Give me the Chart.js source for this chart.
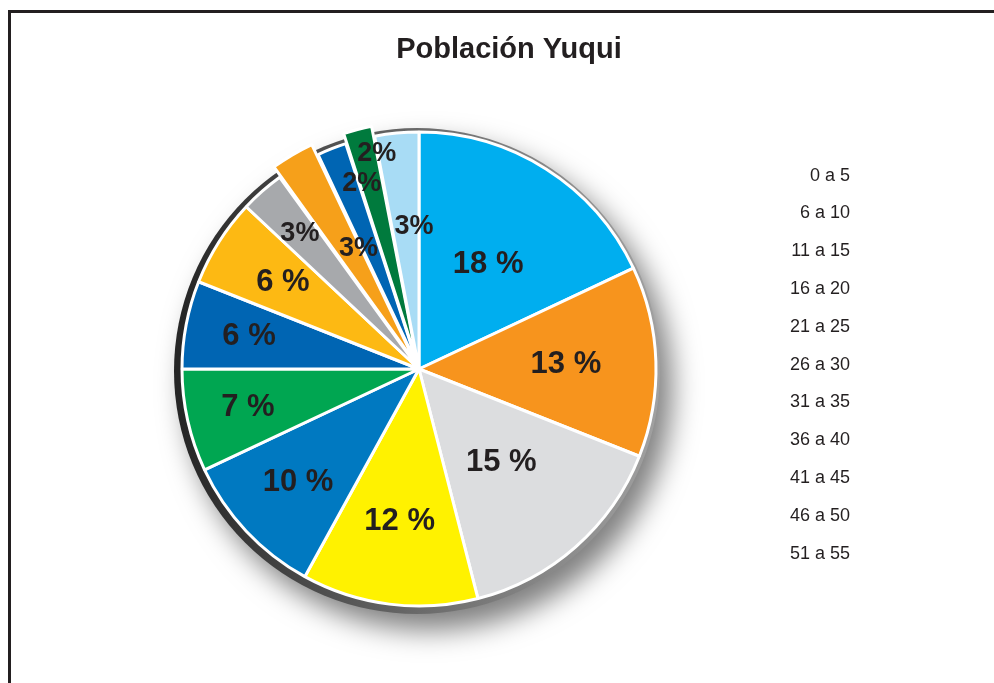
<!DOCTYPE html>
<html>
<head>
<meta charset="utf-8">
<title>Población Yuqui</title>
<script src="https://cdn.jsdelivr.net/npm/chart.js@4.4.1/dist/chart.umd.min.js"></script>
<style>
  html, body { margin: 0; padding: 0; background: #fff; }
  #wrap { width: 994px; height: 683px; position: relative; }
</style>
</head>
<body>
<div id="wrap"><canvas id="yuquiChart"></canvas></div>
<script>
// age groups listed in the legend (the picture only lists 11 of them)
const ageGroups = ["0 a 5", "6 a 10", "11 a 15", "16 a 20", "21 a 25", "26 a 30",
                   "31 a 35", "36 a 40", "41 a 45", "46 a 50", "51 a 55"];
// slice percentages, clockwise from 12 o'clock
const percentages = [18, 13, 15, 12, 10, 7, 6, 6, 3, 3, 2, 2, 3];
const sliceColors = ["#00aeef", "#f7941d", "#dcdddf", "#fff200", "#0079c1", "#00a651",
                     "#0065b3", "#fdb913", "#a7a9ac", "#f6a01a", "#0065b3", "#007a3d", "#a8dcf5"];
// two slices are pulled out of the pie
const explodeBy = [0, 0, 0, 0, 0, 0, 0, 0, 0, 26, 0, 22, 0];
// where each percentage label sits: share of the radius, and a small turn (degrees) off the slice middle
const labelRadius = [0.53, 0.62, 0.525, 0.65, 0.70, 0.74, 0.73, 0.68, 0.76, 0.57, 0.82, 0.925, 0.60];
const labelTurn = [1, 0, 0, 0, 0, 0, 0, 0, 0, 4, 4.5, 3.3, 3.4];

const FONT = '"Liberation Sans", Arial, Helvetica, sans-serif';
const INK = '#231f20';

// frame round the picture + dark rim / drop shadow under the pie
const frameAndShadow = {
  id: 'frameAndShadow',
  beforeDraw(chart) {
    const ctx = chart.ctx;
    ctx.save();
    ctx.fillStyle = INK;
    ctx.fillRect(8, 10, chart.width, 3);
    ctx.fillRect(8, 10, 3, chart.height);
    ctx.restore();
  },
  beforeDatasetsDraw(chart) {
    const arc = chart.getDatasetMeta(0).data[0];
    if (!arc) return;
    const { x, y, outerRadius } = arc.getProps(['x', 'y', 'outerRadius'], true);
    const ctx = chart.ctx;
    ctx.save();
    ctx.shadowColor = 'rgba(0,0,0,0.5)';
    ctx.shadowBlur = 28;
    ctx.shadowOffsetX = 12;
    ctx.shadowOffsetY = 16;
    const g = ctx.createLinearGradient(x - outerRadius, 0, x + outerRadius, 0);
    g.addColorStop(0, '#262626');
    g.addColorStop(0.5, '#6a6a6a');
    g.addColorStop(1, '#a0a0a0');
    ctx.fillStyle = g;
    ctx.beginPath();
    ctx.arc(x - 2, y + 2, outerRadius + 6, 0, Math.PI * 2);
    ctx.fill();
    ctx.restore();
  }
};

// percentage text inside the slices
const sliceLabels = {
  id: 'sliceLabels',
  afterDatasetsDraw(chart) {
    const ctx = chart.ctx;
    const meta = chart.getDatasetMeta(0);
    ctx.save();
    ctx.fillStyle = INK;
    ctx.textAlign = 'center';
    ctx.textBaseline = 'middle';
    meta.data.forEach((arc, i) => {
      const { x, y, startAngle, endAngle, outerRadius } =
        arc.getProps(['x', 'y', 'startAngle', 'endAngle', 'outerRadius'], true);
      const mid = (startAngle + endAngle) / 2 + labelTurn[i] * Math.PI / 180;
      const r = outerRadius * labelRadius[i];
      const v = percentages[i];
      const small = v < 5;
      ctx.font = (small ? 'bold 27px ' : 'bold 31px ') + FONT;
      ctx.fillText(small ? v + '%' : v + ' %', x + Math.cos(mid) * r, y + Math.sin(mid) * r);
    });
    ctx.restore();
  }
};

new Chart(document.getElementById('yuquiChart'), {
  type: 'pie',
  data: {
    labels: ageGroups,
    datasets: [{
      data: percentages,
      backgroundColor: sliceColors,
      borderColor: '#ffffff',
      borderWidth: 3,
      offset: explodeBy,
      radius: 237,
      clip: false
    }]
  },
  options: {
    responsive: true,
    maintainAspectRatio: false,
    animation: false,
    events: [],
    layout: { padding: { left: 168, right: 144, top: 0, bottom: 91.8 } },
    plugins: {
      title: {
        display: true,
        text: 'Población Yuqui',
        color: INK,
        font: { family: FONT, size: 29, weight: 'bold' },
        padding: { top: 32.6, bottom: 79.4 }
      },
      legend: {
        position: 'right',
        align: 'start',
        fullSize: false,
        maxWidth: 180,
        labels: {
          boxWidth: 150,
          boxHeight: 18,
          padding: 19.8,
          textAlign: 'right',
          color: INK,
          font: { family: FONT, size: 18 },
          generateLabels: () => ageGroups.map((text, i) => ({
            text,
            index: i,
            hidden: false,
            fillStyle: 'rgba(0,0,0,0)',
            strokeStyle: 'rgba(0,0,0,0)',
            lineWidth: 0,
            fontColor: INK
          }))
        }
      },
      tooltip: { enabled: false }
    }
  },
  plugins: [frameAndShadow, sliceLabels]
});
</script>
</body>
</html>
